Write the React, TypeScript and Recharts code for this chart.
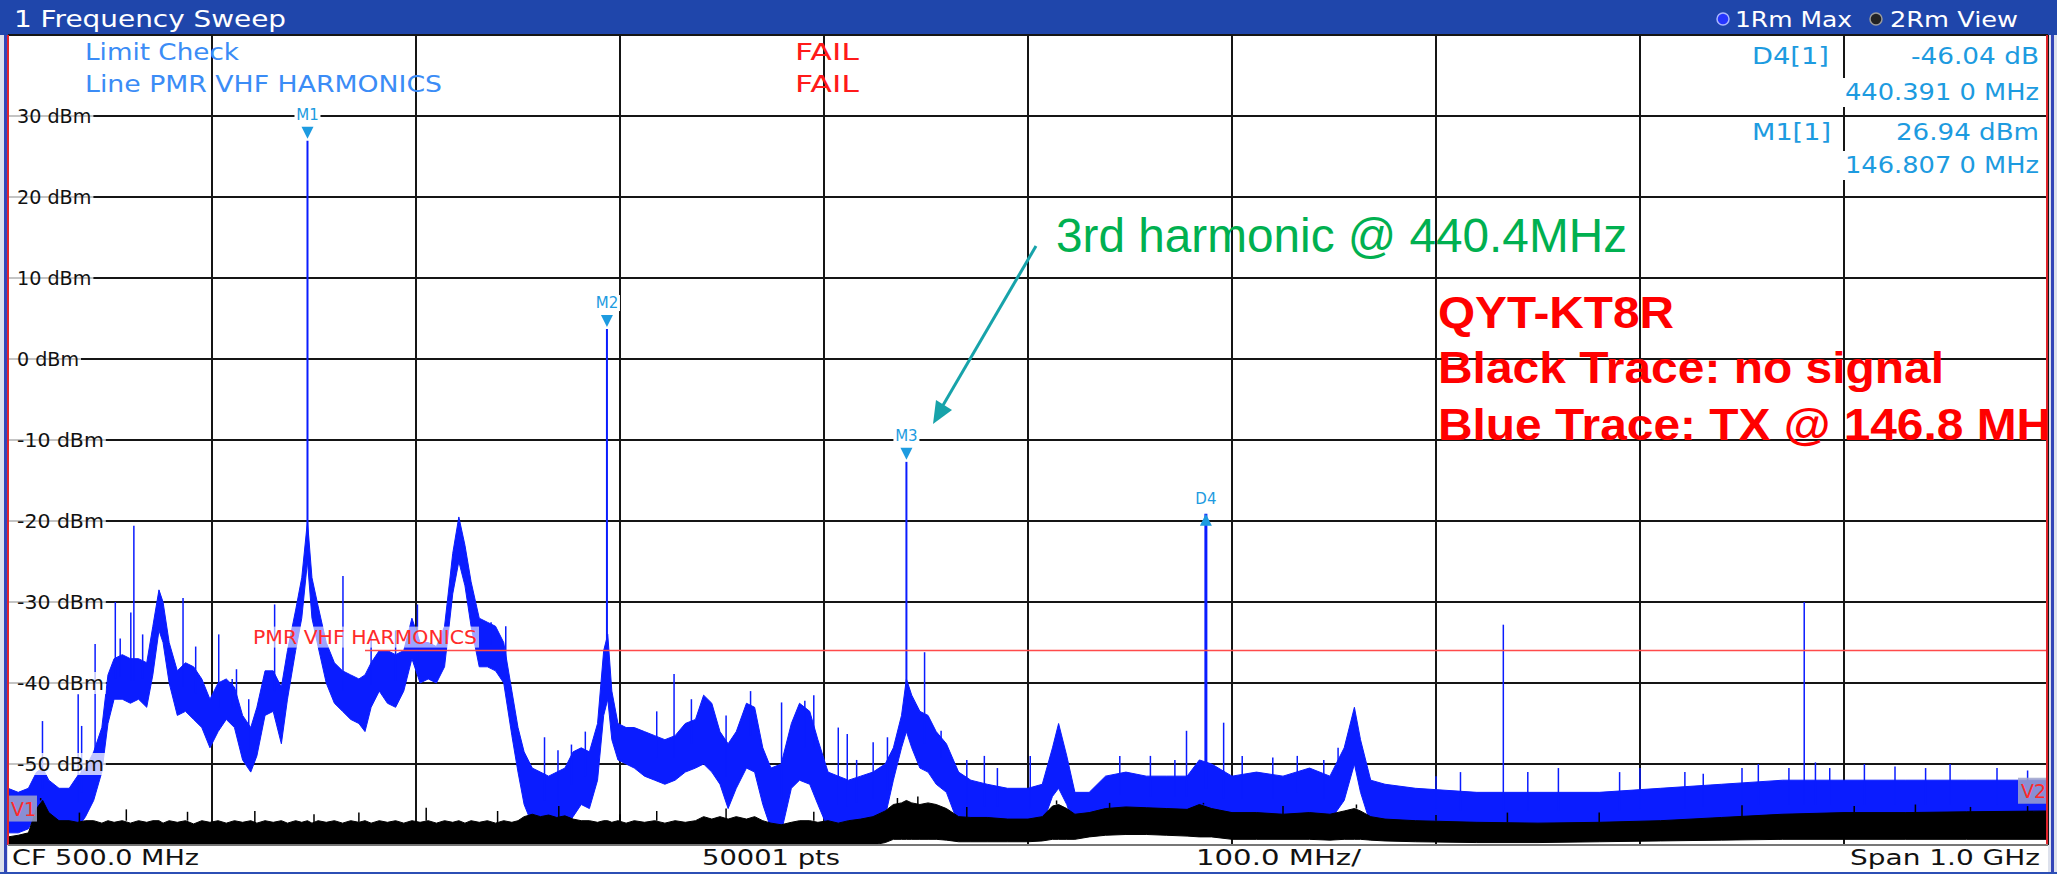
import React from "react";
import {
  ComposedChart,
  Area,
  XAxis,
  YAxis,
  CartesianGrid,
  ReferenceLine,
  ReferenceDot,
} from "recharts";

const W = 2057;
const H = 874;

// spectrum envelope, MHz / dBm
const freqMHz = [
  0, 5, 10, 14, 17, 20, 25, 30, 34, 38,
  42, 46, 49, 52, 56, 60, 64, 68, 71, 74,
  76, 79, 83, 87, 91, 95, 99, 103, 107, 111,
  115, 119, 122, 126, 130, 134, 137, 141, 144, 146.8,
  149, 152, 156, 160, 164, 168, 172, 175, 178, 182,
  186, 190, 194, 198, 202, 206, 210, 214, 218, 221,
  224, 227, 231, 235, 239, 243, 247, 250, 253, 257,
  261, 265, 269, 273, 277, 281, 285, 289, 292, 294,
  296, 299, 303, 307, 312, 317, 322, 327, 332, 337,
  341, 345, 349, 353, 357, 362, 366, 370, 374, 379,
  384, 388, 393, 397, 402, 407, 412, 418, 424, 430,
  434, 438, 440.4, 443, 447, 451, 455, 460, 466, 472,
  480, 490, 500, 507, 512, 515, 519, 523, 530, 538,
  548, 558, 568, 578, 584, 590, 600, 612, 625, 638,
  648, 655, 660, 663, 668, 675, 690, 720, 750, 780,
  810, 840, 870, 900, 930, 960, 1000,
];

const blueTop = [
  -53, -53.5, -53, -51, -50.5, -52, -53, -53, -51.5, -50.5,
  -48.5, -45.5, -39, -37, -36.5, -37, -37, -37.5, -33, -28.5,
  -30, -35, -38.5, -37.5, -38, -39.5, -42, -40, -39.5, -40.5,
  -44, -45.5, -43, -38.5, -38.5, -40.5, -36, -31, -27, -20,
  -27, -30.5, -35, -37.5, -38.5, -39, -39.5, -39, -37.5, -36,
  -36, -36.5, -36, -32, -35, -35, -35.5, -33, -24, -19.5,
  -23, -27.5, -32, -32.5, -33, -35, -41, -45.5, -48.5, -50.5,
  -51, -51.5, -51, -50.5, -48.5, -48, -48.5, -45, -36, -34,
  -41, -45, -45.5, -45.5, -46, -46.5, -47, -46.5, -45, -44.5,
  -41.5, -42.5, -46, -47.5, -46, -42.5, -43, -48, -50.5, -50,
  -45, -42.5, -43.5, -47, -51, -51.5, -52, -51.5, -51, -50,
  -48, -44, -39.5, -41.5, -43.5, -44, -46, -47.5, -51, -52,
  -52.5, -53, -53, -52.5, -48, -45, -49, -53.5, -53.5, -51.5,
  -51, -51.5, -51.5, -51.5, -49.5, -50, -51.5, -51, -51.5, -50.5,
  -51.5, -48, -43, -47, -52, -52.5, -53, -53.5, -53.5, -53.5,
  -53, -52.5, -52, -52, -52, -52, -52,
];

const blueBottom = [
  -58.5, -58.5, -58, -56, -55.5, -57.5, -58.5, -58.5, -58, -56.5,
  -54.5, -51, -45, -42, -42, -42.5, -42, -43, -39, -33.5,
  -35, -40, -44, -43.5, -44.5, -45.5, -48, -46, -44.5, -45.5,
  -49.5, -51, -49, -44, -43.5, -47.5, -42, -36, -32, -25,
  -32, -35.5, -40, -42.5, -43.5, -44.5, -45, -46, -43, -41,
  -42.5, -43, -41, -37, -40, -39.5, -40, -38, -29, -25,
  -28, -33, -38, -38, -38.5, -40, -46.5, -51, -55, -57.5,
  -58, -58.5, -58.5, -58, -56.5, -55, -55.5, -52, -44, -42,
  -47, -49.5, -50, -50.5, -51.5, -52, -52.5, -52, -51, -50.5,
  -50, -51, -52.5, -55.5, -53, -50.5, -51, -55, -58, -58.5,
  -53, -52, -52.5, -55, -58, -58.5, -58.5, -58, -57.5, -56.5,
  -52, -48, -46, -48, -50.5, -51, -52.5, -53.5, -57.5, -58,
  -58, -58, -58, -57.5, -54, -53, -55, -58, -58, -56.5,
  -56.5, -56.5, -56.5, -56.5, -55.5, -56, -57, -57, -57, -56.5,
  -57, -54.5, -50, -53.5, -57.5, -58, -58, -58, -58, -58,
  -58, -58, -58, -58, -58, -58, -58,
];

const blackTop = [
  -59, -58.8, -58.5, -55.5, -54.5, -56, -57, -57, -57.2, -57,
  -57, -57.3, -57, -57.2, -57, -57.3, -57, -57.2, -57, -57,
  -57.3, -57, -57.2, -57, -57.4, -57, -57.2, -57, -57.3, -57,
  -57.2, -57, -57.3, -57, -57.2, -57, -57.3, -57, -57.2, -57,
  -57.3, -57, -57.2, -57, -57.3, -57, -57.2, -57, -57.3, -57,
  -57.2, -57, -57.3, -57, -57.2, -57, -57.3, -57, -57.2, -57,
  -57.3, -57, -57.2, -57, -57.3, -57, -57.2, -57, -56.5, -56.2,
  -56.5, -56.3, -56.6, -56.4, -56.8, -57, -57, -57.2, -57, -57,
  -57.2, -57, -57.3, -57, -57.2, -57, -57.3, -57, -57.2, -57,
  -56.5, -56.8, -56.5, -56.8, -56.5, -56.8, -56.5, -57, -57.3, -57.5,
  -57.2, -57, -57, -57.2, -57, -57.3, -57, -56.8, -56.5, -55.8,
  -55, -54.8, -54.5, -54.8, -55, -54.8, -55, -55.5, -56.5, -56.6,
  -56.6, -56.8, -56.8, -56.5, -55.2, -55, -55.5, -56.2, -56, -55.5,
  -55.3, -55.4, -55.5, -55.6, -55, -55.5, -56, -56, -56.2, -56,
  -56.2, -55.8, -55.5, -55.8, -56.5, -56.8, -57, -57.2, -57.3, -57.2,
  -57, -56.6, -56.2, -56, -56, -55.9, -55.8,
];

const blackBottom = [
  -60, -60, -60, -60, -60, -60, -60, -60, -60, -60,
  -60, -60, -60, -60, -60, -60, -60, -60, -60, -60,
  -60, -60, -60, -60, -60, -60, -60, -60, -60, -60,
  -60, -60, -60, -60, -60, -60, -60, -60, -60, -60,
  -60, -60, -60, -60, -60, -60, -60, -60, -60, -60,
  -60, -60, -60, -60, -60, -60, -60, -60, -60, -60,
  -60, -60, -60, -60, -60, -60, -60, -60, -60, -60,
  -60, -60, -60, -60, -60, -60, -60, -60, -60, -60,
  -60, -60, -60, -60, -60, -60, -60, -60, -60, -60,
  -60, -60, -60, -60, -60, -60, -60, -60, -60, -60,
  -60, -60, -60, -60, -60, -60, -60, -60, -60, -59.7,
  -59.3, -59.3, -59.3, -59.3, -59.3, -59.3, -59.3, -59.4, -59.6, -59.6,
  -59.6, -59.6, -59.6, -59.5, -59.3, -59.3, -59.3, -59.3, -59, -58.8,
  -58.7, -58.7, -58.8, -58.9, -59, -59, -59.3, -59.3, -59.3, -59.3,
  -59.4, -59.3, -59.3, -59.3, -59.4, -59.5, -59.6, -59.7, -59.7, -59.6,
  -59.5, -59.4, -59.3, -59.3, -59.3, -59.3, -59.3,
];

// single-bin spurs on the blue (max hold) trace
const spikeFreq = [
  16.9, 34.4, 36.1, 42.7, 52.6, 60.2, 61.7, 85.8, 103.3, 109.9, 112, 130.7,
  164.2, 200.7, 236.8, 263, 269.6, 276.2, 326.5, 379.2, 390.6, 407, 411.4,
  424.1, 431.1, 449.3, 457.4, 478.6, 501.1, 577.7, 595.9, 733, 831, 880.5,
  55, 66, 92, 118, 178, 190, 244, 283, 318, 335, 352, 364, 395, 416, 470,
  485, 545, 560, 572, 605, 620, 632, 645, 652, 700, 712, 745, 760, 790,
  800, 822, 850, 858, 873, 886, 893, 910, 925, 940, 952, 975, 990,
];
const spikeTop = [
  -44.7, -41.4, -45.3, -35.2, -30, -31.3, -20.6, -29.5, -34, -39.5, -38.3, -30.3,
  -26.8, -30.3, -32.5, -46.7, -48.3, -47.6, -38.9, -42.4, -42.2, -45.5, -46.3,
  -47.3, -46.7, -36.2, -45.9, -49, -49, -45.9, -44.9, -32.8, -51.2, -30,
  -34.5, -34, -35.5, -42, -34, -33.5, -33, -46, -43.5, -42, -44, -41, -41.5, -49.5, -49.5,
  -50.5, -49, -49, -49.5, -49, -49.2, -49, -49.5, -48, -51.5, -51, -51, -50.5, -51,
  -50.5, -51, -50.5, -50, -50.5, -49.8, -50.5, -50, -50.3, -50.5, -50, -50.5, -50.8,
];

// spurs on the black (no signal) trace
const floorSpikeFreq = [
  16, 58, 121, 205, 318, 436, 446, 514, 586, 661, 735, 905, 962,
  35, 88, 150, 172, 240, 270, 300, 352, 395, 470, 540, 625, 700, 780, 850, 935, 990,
];
const floorSpikeTop = [
  -54.2, -55.6, -55.8, -55.4, -55.8, -54.2, -54, -54.5, -54.8, -55, -56, -55.2, -55.3,
  -56, -55.9, -56.2, -56, -55.8, -55.2, -56.2, -55.5, -55.9, -55.3, -54.8, -55.2, -56.3, -56, -55.1, -55, -55.2,
];

const markerNames = ["M1", "M2", "M3", "D4"];
const markerFreq = [146.807, 293.6, 440.4, 587.198];
const markerLevel = [26.94, 3.7, -12.7, -19.1];

const limitStart = 175;
const limitEnd = 1000;
const limitLevel = -36;

const edgeLabels = ["V1", "V2"];
const edgeFreq = [0, 1000];
const edgeLevel = [-55.5, -53.3];

const xTicks = [100, 200, 300, 400, 500, 600, 700, 800, 900];
const yTicks = [-50, -40, -30, -20, -10, 0, 10, 20, 30];

const traceData = freqMHz.map((f, i) => ({
  f,
  blue: [blueBottom[i], blueTop[i]],
  black: [blackBottom[i], blackTop[i]],
}));

const nearestIndex = (f: number) =>
  freqMHz.reduce(
    (best, v, i) => (Math.abs(v - f) < Math.abs(freqMHz[best] - f) ? i : best),
    0
  );

const BLUE = "#0a1cff";
const MARK = "#1d9be0";
const UI = "DejaVu Sans";

// level label sitting on the left end of each horizontal grid line
const levelLabel = (value: number) => (p: any) => {
  const { cx, cy } = p;
  const label = `${value} dBm`;
  const w = label.length * 12.4;
  return (
    <g>
      <rect x={cx + 1} y={cy - 11} width={w + 10} height={22} fill="#fff" fillOpacity={0.75} />
      <text
        x={cx + 9}
        y={cy + 7}
        fontSize={20}
        fontFamily={UI}
        fill="#111"
        textLength={w}
        lengthAdjust="spacingAndGlyphs"
      >
        {label}
      </text>
    </g>
  );
};

const markerShape = (name: string) => (p: any) => {
  const { cx, cy } = p;
  const up = name.startsWith("D");
  const tri = up
    ? `${cx},${cy} ${cx - 6},${cy + 12} ${cx + 6},${cy + 12}`
    : `${cx - 6},${cy - 14} ${cx + 6},${cy - 14} ${cx},${cy - 2}`;
  const ly = up ? cy - 10 : cy - 21;
  return (
    <g>
      <rect x={cx - 13} y={ly - 13} width={26} height={16} fill="#fff" />
      <text x={cx} y={ly} textAnchor="middle" fontSize={15} fontFamily={UI} fill={MARK}>
        {name}
      </text>
      <polygon points={tri} fill={MARK} />
    </g>
  );
};

const limitLabel = (p: any) => {
  const { cx, cy } = p;
  return (
    <g>
      <rect x={cx - 114} y={cy - 24} width={228} height={21} fill="#fff" fillOpacity={0.6} />
      <text
        x={cx - 112}
        y={cy - 7}
        fontSize={19}
        fontFamily={UI}
        fill="#ff2a2a"
        textLength={224}
        lengthAdjust="spacingAndGlyphs"
      >
        PMR VHF HARMONICS
      </text>
    </g>
  );
};

const edgeShape = (name: string) => (p: any) => {
  const { cx, cy } = p;
  const left = name === "V1";
  const x = left ? cx : cx - 30;
  return (
    <g>
      <rect x={x} y={cy - 13} width={29} height={26} fill="#9fa3cc" fillOpacity={0.85} />
      <text x={x + 3} y={cy + 7} fontSize={19} fontFamily={UI} fill="#ff2a2a">
        {name}
      </text>
    </g>
  );
};

const Txt = (p: any) => (
  <text
    x={p.x}
    y={p.y}
    fontSize={p.size}
    fontFamily={p.font || UI}
    fontWeight={p.bold ? "bold" : "normal"}
    fill={p.fill}
    textLength={p.len}
    lengthAdjust="spacingAndGlyphs"
  >
    {p.children}
  </text>
);

const Readout = (p: any) => (
  <g>
    <rect x={p.x - 3} y={p.y - 22} width={p.len + 6} height={29} fill="#fff" />
    <Txt x={p.x} y={p.y} size={23} fill={MARK} len={p.len}>
      {p.children}
    </Txt>
  </g>
);

const Frame = () => (
  <svg width={W} height={H} style={{ position: "absolute", left: 0, top: 0 }}>
    <rect x={0} y={0} width={W} height={H} fill="#dde1ec" />
    <rect x={0} y={0} width={W} height={35} fill="#1f46ab" />
    <rect x={8} y={35} width={2040} height={810} fill="#fff" />
    <rect x={8} y={845} width={2040} height={27} fill="#fff" />
    <rect x={0} y={872} width={W} height={2} fill="#2c4fb5" />
    <rect x={4} y={35} width={3} height={837} fill="#3345b8" />
    <rect x={2051} y={35} width={3} height={837} fill="#3345b8" />
  </svg>
);

const Overlay = () => (
  <svg
    width={W}
    height={H}
    style={{ position: "absolute", left: 0, top: 0, pointerEvents: "none" }}
  >
    <defs>
      <clipPath id="plotClip">
        <rect x={8} y={35} width={2039} height={810} />
      </clipPath>
    </defs>
    <line x1={8} y1={35} x2={8} y2={845} stroke="#e0242c" strokeWidth={2} />
    <line x1={2047} y1={35} x2={2047} y2={845} stroke="#e0242c" strokeWidth={2} />
    <line x1={8} y1={845} x2={2048} y2={845} stroke="#999" strokeWidth={1.5} />

    <Txt x={14} y={27} size={23} fill="#fff" len={272}>1 Frequency Sweep</Txt>
    <circle cx={1723} cy={19} r={6} fill="#2636ff" stroke="#a9b6ff" strokeWidth={1.5} />
    <Txt x={1735} y={27} size={21} fill="#fff" len={117}>1Rm Max</Txt>
    <circle cx={1876} cy={19} r={6} fill="#222" stroke="#9a9a9a" strokeWidth={1.5} />
    <Txt x={1890} y={27} size={21} fill="#fff" len={128}>2Rm View</Txt>

    <Txt x={85} y={60} size={23} fill="#3b8cf6" len={154}>Limit Check</Txt>
    <Txt x={85} y={92} size={23} fill="#3b8cf6" len={357}>Line PMR VHF HARMONICS</Txt>
    <Txt x={795} y={60} size={23} fill="#ff1a1a" len={64}>FAIL</Txt>
    <Txt x={795} y={92} size={23} fill="#ff1a1a" len={64}>FAIL</Txt>

    <Readout x={1752} y={64} len={77}>D4[1]</Readout>
    <Readout x={1911} y={64} len={128}>-46.04 dB</Readout>
    <Readout x={1845} y={100} len={194}>440.391 0 MHz</Readout>
    <Readout x={1752} y={140} len={79}>M1[1]</Readout>
    <Readout x={1896} y={140} len={143}>26.94 dBm</Readout>
    <Readout x={1845} y={173} len={194}>146.807 0 MHz</Readout>

    <Txt x={1056} y={252} size={48} font="Liberation Sans" fill="#00b050" len={571}>
      3rd harmonic @ 440.4MHz
    </Txt>
    <line x1={1036} y1={246} x2={942} y2={407} stroke="#17a3aa" strokeWidth={3} />
    <polygon points="933,424 952,410 936,400" fill="#17a3aa" />

    <g clipPath="url(#plotClip)">
      <Txt x={1438} y={328} size={44} bold font="Liberation Sans" fill="#ff0000" len={236}>
        QYT-KT8R
      </Txt>
      <Txt x={1438} y={383} size={44} bold font="Liberation Sans" fill="#ff0000" len={506}>
        Black Trace: no signal
      </Txt>
      <Txt x={1438} y={440} size={44} bold font="Liberation Sans" fill="#ff0000" len={637}>
        Blue Trace: TX @ 146.8 MHz
      </Txt>
    </g>

    <Txt x={12} y={865} size={22} fill="#111" len={187}>CF 500.0 MHz</Txt>
    <Txt x={702} y={865} size={22} fill="#111" len={138}>50001 pts</Txt>
    <Txt x={1196} y={865} size={22} fill="#111" len={165}>100.0 MHz/</Txt>
    <Txt x={1850} y={865} size={22} fill="#111" len={190}>Span 1.0 GHz</Txt>
  </svg>
);

export default function App() {
  return (
    <div style={{ position: "fixed", left: 0, top: 0, width: W, height: H, overflow: "hidden" }}>
      <Frame />
      <div style={{ position: "absolute", left: 0, top: 0 }}>
        <ComposedChart
          width={W}
          height={H}
          data={traceData}
          margin={{ top: 35, right: 9, bottom: 29, left: 8 }}
        >
          <CartesianGrid stroke="#151515" strokeWidth={2} />
          <XAxis type="number" dataKey="f" domain={[0, 1000]} ticks={xTicks} hide />
          <YAxis type="number" domain={[-60, 40]} ticks={yTicks} hide allowDataOverflow />
          <Area
            type="linear"
            dataKey="blue"
            stroke={BLUE}
            strokeWidth={1}
            fill={BLUE}
            fillOpacity={1}
            dot={false}
            activeDot={false}
            isAnimationActive={false}
          />
          <Area
            type="linear"
            dataKey="black"
            stroke="#000"
            strokeWidth={1}
            fill="#000"
            fillOpacity={1}
            dot={false}
            activeDot={false}
            isAnimationActive={false}
          />
          {spikeFreq.map((f, i) => {
            const j = nearestIndex(f);
            const base = (blueTop[j] + blueBottom[j]) / 2;
            return (
              <ReferenceLine
                key={`s${i}`}
                segment={[{ x: f, y: base }, { x: f, y: spikeTop[i] }]}
                stroke={BLUE}
                strokeWidth={1.5}
              />
            );
          })}
          {floorSpikeFreq.map((f, i) => (
            <ReferenceLine
              key={`k${i}`}
              segment={[{ x: f, y: blackTop[nearestIndex(f)] }, { x: f, y: floorSpikeTop[i] }]}
              stroke="#000"
              strokeWidth={1.5}
            />
          ))}
          {markerFreq.map((f, i) => {
            const j = nearestIndex(f);
            return (
              <ReferenceLine
                key={`m${i}`}
                segment={[{ x: f, y: (blueTop[j] + blueBottom[j]) / 2 }, { x: f, y: markerLevel[i] }]}
                stroke={BLUE}
                strokeWidth={markerNames[i] === "D4" ? 3 : 2}
              />
            );
          })}
          <ReferenceLine
            segment={[{ x: limitStart, y: limitLevel }, { x: limitEnd, y: limitLevel }]}
            stroke="#ff4a4a"
            strokeWidth={1.5}
          />
          <ReferenceDot x={limitStart} y={limitLevel} r={0} shape={limitLabel} />
          {yTicks.map((v) => (
            <ReferenceDot key={`y${v}`} x={0} y={v} r={0} shape={levelLabel(v)} />
          ))}
          {markerFreq.map((f, i) => (
            <ReferenceDot
              key={`d${i}`}
              x={f}
              y={markerLevel[i]}
              r={6}
              shape={markerShape(markerNames[i])}
            />
          ))}
          {edgeFreq.map((f, i) => (
            <ReferenceDot
              key={`v${i}`}
              x={f}
              y={edgeLevel[i]}
              r={6}
              shape={edgeShape(edgeLabels[i])}
            />
          ))}
        </ComposedChart>
      </div>
      <Overlay />
    </div>
  );
}
